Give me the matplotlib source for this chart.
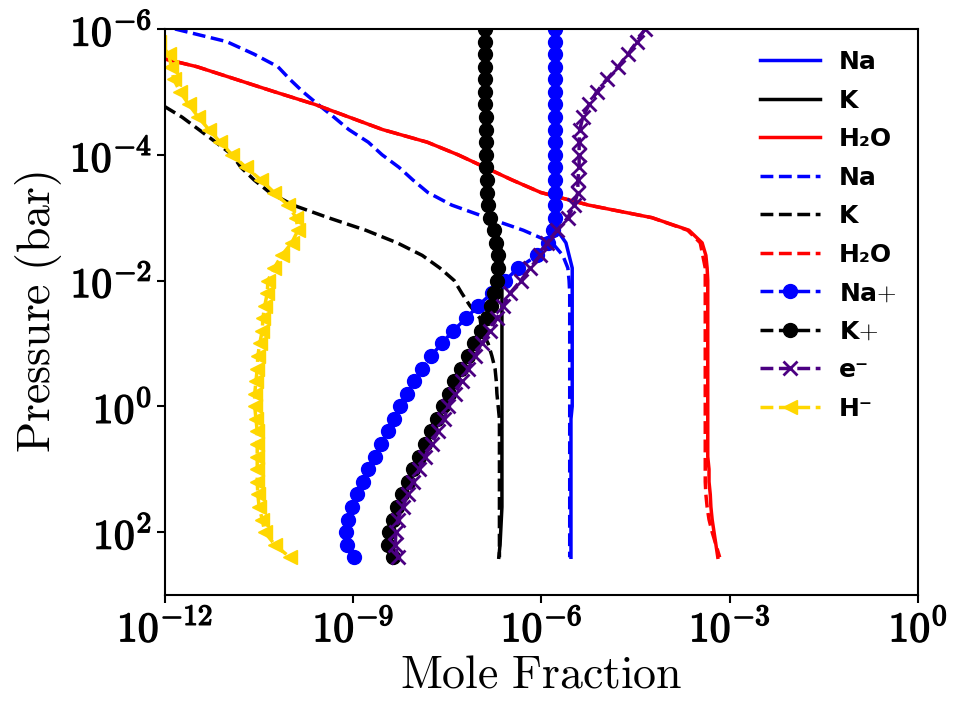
import numpy as np
import matplotlib

matplotlib.use("Agg")
import matplotlib.pyplot as plt
import matplotlib.patheffects as pe

plt.rcParams["mathtext.fontset"] = "cm"

# log10 of pressure (bar) for each model layer
LOG_P = [-6.0, -5.8, -5.6, -5.4, -5.2, -5.0, -4.8, -4.6, -4.4, -4.2,
         -4.0, -3.8, -3.6, -3.4, -3.2, -3.0, -2.8, -2.6, -2.4, -2.2,
         -2.0, -1.8, -1.6, -1.4, -1.2, -1.0, -0.8, -0.6, -0.4, -0.2,
         0.0, 0.2, 0.4, 0.6, 0.8, 1.0, 1.2, 1.4, 1.6, 1.8,
         2.0, 2.2, 2.4]

# log10 mole fractions, solid = first model
NA_SOLID = [-5.78] * 16 + [-5.75, -5.61, -5.56] + [-5.51] * 12 + [-5.53] * 12
K_ION = ([-6.90] * 7 + [-6.89] * 4
         + [-6.88, -6.87, -6.87, -6.85, -6.82, -6.76, -6.73, -6.69, -6.69, -6.71,
            -6.76, -6.80, -6.87, -6.96, -7.08, -7.17, -7.28, -7.39, -7.47, -7.57,
            -7.67, -7.76, -7.86, -7.95, -8.05, -8.13, -8.22, -8.30, -8.37, -8.43,
            -8.45, -8.37])
K_SOLID = K_ION[:15] + [-6.78, -6.72, -6.66] + [-6.63] * 21 + [-6.64, -6.65, -6.66, -6.68]
H2O_SOLID = ([-13.8, -13.0, -12.32, -11.49, -10.87, -10.25, -9.61, -9.07, -8.53, -7.82,
              -7.33, -6.90, -6.47, -6.01, -5.25, -4.24, -3.65, -3.44, -3.38, -3.36]
             + [-3.35] * 15
             + [-3.33, -3.33, -3.31, -3.30, -3.28, -3.25, -3.22, -3.19])

# dashed = second model
NA_DASH = ([-11.84, -11.02, -10.58, -10.20, -10.01, -9.80, -9.56, -9.31, -9.07, -8.76,
            -8.54, -8.27, -8.05, -7.81, -7.43, -6.87, -6.29, -5.83, -5.66, -5.58,
            -5.56] + [-5.55] * 22)
K_DASH = ([-14.0, -13.6, -13.2, -12.9, -12.6, -12.29, -12.06, -11.73, -11.46, -11.19,
           -10.93, -10.79, -10.58, -10.33, -9.96, -9.40, -8.80, -8.30, -7.90, -7.62,
           -7.39, -7.27, -7.14, -6.98, -6.95, -6.85, -6.79, -6.74, -6.72, -6.71,
           -6.69] + [-6.67] * 12)
H2O_DASH = H2O_SOLID[:16] + [-3.67, -3.47, -3.43] + [-3.39] * 18 + [-3.38, -3.36, -3.33, -3.28, -3.22, -3.16]

# ions
NA_ION = ([-5.78] * 15
          + [-5.79, -5.82, -5.90, -6.07, -6.37, -6.58, -6.79, -7.01, -7.20, -7.41,
             -7.59, -7.76, -7.90, -8.03, -8.14, -8.26, -8.35, -8.45, -8.56, -8.65,
             -8.76, -8.84, -8.94, -9.02, -9.08, -9.12, -9.10, -8.99])
E_ION = [-4.35, -4.48, -4.62, -4.78, -4.96, -5.12, -5.24, -5.34, -5.39, -5.40,
         -5.40, -5.40, -5.42, -5.42, -5.48, -5.58, -5.75, -5.91, -6.02, -6.18,
         -6.33, -6.50, -6.61, -6.71, -6.82, -6.95, -7.06, -7.17, -7.27, -7.38,
         -7.49, -7.55, -7.65, -7.75, -7.86, -7.95, -8.05, -8.13, -8.21, -8.29,
         -8.32, -8.33, -8.29]
H_ION = [-12.3, -12.1, -11.94, -11.90, -11.86, -11.76, -11.62, -11.47, -11.30, -11.12,
         -10.93, -10.71, -10.47, -10.26, -10.04, -9.91, -9.88, -9.98, -10.14, -10.26,
         -10.36, -10.37, -10.41, -10.44, -10.45, -10.49, -10.52, -10.53, -10.55, -10.57,
         -10.57, -10.55, -10.53, -10.53, -10.53, -10.53, -10.53, -10.52, -10.50, -10.45,
         -10.41, -10.25, -10.01]

X_TICKS = [-12, -9, -6, -3, 0]
Y_TICKS = [-6, -4, -2, 0, 2]

pressure = 10.0 ** np.array(LOG_P)


def mf(values):
    return 10.0 ** np.array(values)


fig = plt.figure(figsize=(9.67, 7.07), dpi=100)
ax = fig.add_axes([0.1706, 0.1584, 0.7787, 0.8006])

lw = 2.5
ax.plot(mf(NA_SOLID), pressure, "-", color="blue", lw=lw, label="Na")
ax.plot(mf(K_SOLID), pressure, "-", color="black", lw=lw, label="K")
ax.plot(mf(H2O_SOLID), pressure, "-", color="red", lw=lw, label="H₂O")
ax.plot(mf(NA_DASH), pressure, "--", color="blue", lw=lw, label="Na")
ax.plot(mf(K_DASH), pressure, "--", color="black", lw=lw, label="K")
ax.plot(mf(H2O_DASH), pressure, "--", color="red", lw=lw, label="H₂O")
ax.plot(mf(NA_ION), pressure, "--o", color="blue", lw=lw, ms=10, label="Na$+$")
ax.plot(mf(K_ION), pressure, "--o", color="black", lw=lw, ms=10, label="K$+$")
ax.plot(mf(E_ION), pressure, "--x", color="#4B0082", lw=lw, ms=10, mew=2, label="e⁻")
ax.plot(mf(H_ION), pressure, "--<", color="#FFD700", lw=lw, ms=10, label="H⁻")

ax.set_xscale("log")
ax.set_yscale("log")
ax.set_xlim(1e-12, 1e0)
ax.set_ylim(1e3, 1e-6)

ax.set_xticks([10.0 ** t for t in X_TICKS])
ax.set_xticklabels([r"$\mathbf{10^{%d}}$" % t for t in X_TICKS])
ax.set_yticks([10.0 ** t for t in Y_TICKS])
ax.set_yticklabels([r"$\mathbf{10^{%d}}$" % t for t in Y_TICKS])
ax.minorticks_off()
ax.tick_params(labelsize=30, length=6, width=1.5)
for lbl in ax.get_xticklabels() + ax.get_yticklabels():
    lbl.set_path_effects([pe.withStroke(linewidth=1.0, foreground="black")])
for sp in ax.spines.values():
    sp.set_linewidth(1.5)

ax.set_xlabel(r"$\mathrm{Mole\ Fraction}$", fontsize=33, labelpad=2)
ax.set_ylabel(r"$\mathrm{Pressure\ (bar)}$", fontsize=33, labelpad=4)

ax.legend(loc="upper right", bbox_to_anchor=(1.0, 1.0), frameon=False,
          handlelength=2.4, handletextpad=0.75, labelspacing=0.58,
          borderaxespad=0.45, prop={"weight": "bold", "size": 18})

fig.savefig("out.png", dpi=100)
